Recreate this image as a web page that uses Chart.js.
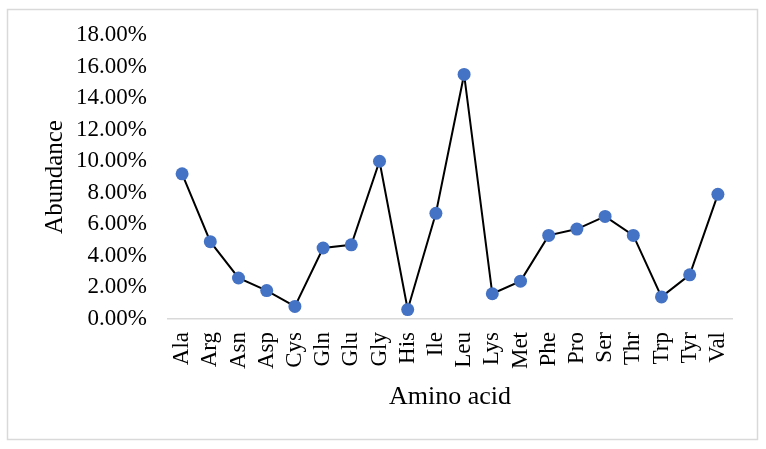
<!DOCTYPE html>
<html>
<head>
<meta charset="utf-8">
<script src="https://cdn.jsdelivr.net/npm/chart.js@4"></script>
<style>
  html, body { margin: 0; padding: 0; background: #fff; }
  #wrap { width: 766px; height: 449px; position: relative; }
</style>
</head>
<body>
<div id="wrap"><canvas id="c" width="766" height="449"></canvas></div>
<script>
const categories = ["Ala","Arg","Asn","Asp","Cys","Gln","Glu","Gly","His","Ile","Leu","Lys","Met","Phe","Pro","Ser","Thr","Trp","Tyr","Val"];
const abundance = [9.2, 4.9, 2.6, 1.8, 0.8, 4.5, 4.7, 10.0, 0.6, 6.7, 15.5, 1.6, 2.4, 5.3, 5.7, 6.5, 5.3, 1.4, 2.8, 7.9];
const yTickMin = 0, yTickMax = 18, yTickStep = 2;
const xTitle = "Amino acid";
const yTitle = "Abundance";

const FONT = "'Liberation Serif', 'Times New Roman', serif";

const frame = {
  id: 'frame',
  beforeDraw(chart) {
    const ctx = chart.ctx;
    ctx.save();
    ctx.fillStyle = '#fff';
    ctx.fillRect(0, 0, chart.width, chart.height);
    ctx.strokeStyle = '#d9d9d9';
    ctx.lineWidth = 1.5;
    ctx.strokeRect(7.5, 9.5, 750, 430);
    ctx.restore();
  }
};

new Chart(document.getElementById('c'), {
  type: 'line',
  data: {
    labels: categories,
    datasets: [{
      data: abundance,
      borderColor: '#000',
      borderWidth: 2,
      pointBackgroundColor: '#4472C4',
      pointBorderColor: '#4472C4',
      pointRadius: 6.5,
      pointBorderWidth: 0,
      tension: 0,
      fill: false
    }]
  },
  options: {
    responsive: false,
    animation: false,
    devicePixelRatio: 1,
    layout: { padding: { left: 40, right: 34, top: 35, bottom: 36 } },
    plugins: { legend: { display: false }, tooltip: { enabled: false } },
    scales: {
      x: {
        offset: true,
        grid: { display: false, drawTicks: false, tickLength: 0 },
        border: { display: true, color: '#d9d9d9', width: 1.5 },
        ticks: {
          minRotation: 90, maxRotation: 90, autoSkip: false, padding: 13,
          color: '#000', font: { family: FONT, size: 23 }
        },
        title: {
          display: true, text: xTitle, color: '#000',
          font: { family: FONT, size: 26 }, padding: { top: 0, bottom: 0 }
        },
        afterFit(scale) { scale.height = 94; }
      },
      y: {
        min: yTickMin, max: yTickMax,
        grid: { display: false, drawTicks: false, tickLength: 0 },
        border: { display: false },
        ticks: {
          stepSize: yTickStep, padding: 21, color: '#000',
          font: { family: FONT, size: 23 },
          callback: v => v.toFixed(2) + '%'
        },
        title: {
          display: true, text: yTitle, color: '#000',
          font: { family: FONT, size: 25 }, padding: { top: 0, bottom: 0 }
        },
        afterFit(scale) { scale.width = 128; }
      }
    }
  },
  plugins: [frame]
});
</script>
</body>
</html>
